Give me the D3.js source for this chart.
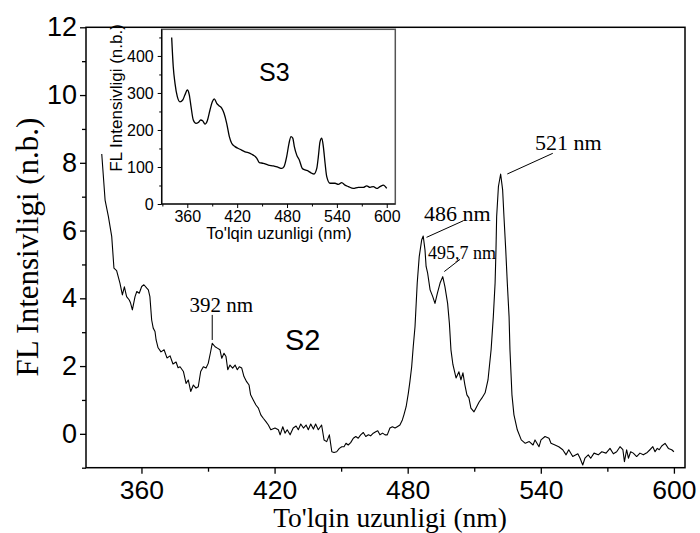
<!DOCTYPE html>
<html><head><meta charset="utf-8">
<script src="https://cdn.jsdelivr.net/npm/d3@7"></script>
<style>
body{margin:0;background:#fff;}
svg{display:block;}
</style></head>
<body>
<svg id="c" width="700" height="533"></svg>
<script>
// ---- Main spectrum (S2) ----
const mainWavelength = [342.1,343.6,345.1,346.6,347.6,348.8,350.3,351.4,352.3,353.3,354.5,355.1,355.9,357.1,357.9,359.0,360.1,361.1,362.4,363.1,363.8,364.6,365.3,366.1,366.6,
367.5,368.8,370.2,371.5,372.9,374.2,375.6,376.5,
377.4,378.9,380.1,381.1,382.2,383.4,384.6,385.6,386.7,387.9,389.1,390.1,391.2,391.9,393.2,394.2,395.4,396.2,397.2,398.1,398.9,399.9,401.1,402.2,403.2,404.1,405.2,406.2,407.4,408.5,409.2,410.4,411.6,412.7,413.8,414.9,416.1,417.2,418.3,420.2,421.7,422.5,423.7,424.7,425.7,427.0,428.4,429.7,430.7,431.8,433.0,434.2,435.2,436.3,437.5,438.5,439.7,441.2,442.3,443.5,444.7,445.8,446.8,448.0,449.2,450.3,451.3,452.2,453.2,454.3,455.5,456.6,457.7,458.8,460.0,461.1,462.3,463.3,464.5,465.6,466.5,467.5,468.7,469.8,470.8,472.0,473.1,474.3,475.3,476.5,477.6,478.3,479.3,480.3,481.0,481.8,482.5,483.3,484.3,485.2,486.3,487.0,487.8,488.3,489.0,490.1,491.3,492.3,493.4,494.6,495.8,496.8,498.0,498.8,499.5,
500.4,501.8,503.1,504.0,504.9,505.8,506.7,507.6,508.5,509.9,510.8,512.2,513.5,514.9,516.2,517.6,518.6,519.4,519.8,520.1,520.9,521.9,522.8,523.4,524.2,524.9,525.7,526.1,527.0,527.9,529.4,531.2,533.0,534.8,536.5,537.4,539.2,540.1,541.9,543.7,544.6,546.4,548.1,549.9,551.4,552.6,554.4,556.7,557.7,558.9,559.9,561.4,562.5,564.0,565.9,567.5,569.4,571.2,572.7,574.2,575.7,577.0,577.7,578.7,579.5,580.5,581.7,583.2,584.7,586.2,588.0,589.2,590.5,591.5,592.5,593.4,594.5,596.0,597.5,599.0,600.0];
const mainIntensity = [8.26,6.90,6.41,5.82,4.89,4.82,4.45,4.10,4.34,4.05,3.95,3.86,3.66,4.05,4.20,4.15,4.35,4.40,4.30,4.25,4.05,3.36,3.12,3.02,2.77,
2.54,2.42,2.48,2.24,2.30,2.06,2.12,1.95,
1.98,1.84,1.49,1.59,1.25,1.44,1.35,1.39,1.84,1.98,1.94,2.08,2.43,2.67,2.57,2.53,2.48,2.23,2.38,2.28,1.89,2.03,1.94,2.03,1.89,1.98,1.94,1.69,1.54,1.44,1.15,1.00,0.85,0.76,0.56,0.46,0.36,0.26,0.12,0.17,0.12,-0.03,0.21,0.02,0.12,-0.03,0.17,0.23,0.12,0.29,0.17,0.26,0.12,0.29,0.14,0.29,0.12,0.26,-0.18,-0.23,-0.03,-0.53,-0.55,-0.53,-0.43,-0.38,-0.38,-0.28,-0.33,-0.26,-0.13,-0.08,-0.13,-0.03,0.04,-0.08,-0.03,-0.06,0.02,0.06,0.09,-0.03,0.02,-0.03,-0.03,0.17,0.21,0.17,0.21,0.26,0.41,0.56,0.80,1.20,1.54,1.98,2.57,3.16,4.45,5.23,5.72,5.84,5.43,4.94,4.74,4.25,4.05,3.85,4.15,4.45,4.64,4.34,3.85,3.26,2.48,
2.04,1.65,1.83,1.59,1.80,1.44,1.15,1.06,0.76,0.65,0.76,0.94,1.06,1.21,1.59,2.48,3.46,4.45,5.43,6.41,7.30,7.67,7.20,6.41,5.43,4.45,3.46,2.48,1.15,0.56,0.12,-0.18,-0.28,-0.23,-0.33,-0.18,-0.38,-0.18,-0.08,-0.13,-0.28,-0.33,-0.38,-0.47,-0.62,-0.47,-0.67,-0.59,-0.72,-0.92,-0.72,-0.62,-0.72,-0.57,-0.62,-0.53,-0.57,-0.43,-0.59,-0.53,-0.38,-0.47,-0.82,-0.47,-0.72,-0.53,-0.57,-0.67,-0.57,-0.62,-0.55,-0.47,-0.38,-0.53,-0.43,-0.47,-0.36,-0.28,-0.43,-0.47,-0.53];

// ---- Inset spectrum (S3) ----
const insetWavelength = [341.2,343.1,345.2,348.0,351.2,354.5,357.2,360.0,362.4,364.5,367.2,370.5,373.2,376.1,378.5,381.3,384.1,387.3,390.1,392.5,395.4,398.5,401.4,404.2,407.4,410.6,413.4,417.4,423.4,429.5,435.5,439.4,443.5,446.6,451.5,457.5,463.5,469.5,473.6,476.4,479.6,482.4,484.8,486.9,488.8,491.7,494.8,498.4,501.7,505.6,509.7,512.5,515.8,517.7,519.7,521.8,523.7,525.8,527.8,531.8,537.8,541.8,545.8,549.8,553.8,559.8,565.8,571.8,575.9,579.9,583.9,587.9,591.9,595.9,600.0];
const insetIntensity = [450,371,326,290,276,281,295,308,295,263,227,218,220,227,225,216,225,254,276,284,272,265,259,245,218,182,164,155,148,141,137,132,124,112,110,105,103,99,96,101,128,164,182,178,155,132,119,96,92,89,83,81,96,128,168,178,155,110,74,56,56,53,58,51,47,42,45,45,49,45,47,42,47,51,42];

// ---- Axis ticks ----
const mainXTicks = [360,420,480,540,600];
const mainXMinor = [390,450,510,570];
const mainYTicks = [0,2,4,6,8,10,12];
const mainYMinor = [-1,1,3,5,7,9,11];
const insetXTicks = [360,420,480,540,600];
const insetXMinor = [330,390,450,510,570];
const insetYTicks = [0,100,200,300,400];
const insetYMinor = [50,150,250,350,450];

// ---- Peak labels ----
const peakLabels = ["392 nm","486 nm","495,7 nm","521 nm"];

const svg = d3.select("#c");
const SANS = "'Liberation Sans', Arial, sans-serif";
const SERIF = "'Liberation Serif', 'Times New Roman', serif";

const x = d3.scaleLinear().domain([335,605]).range([86,685]);
const y = d3.scaleLinear().domain([-1,12]).range([467.7,27.3]);

function styleAxis(g, fs){
  g.select(".domain").remove();
  g.selectAll("line").attr("stroke","#000").attr("stroke-width",1.3);
  g.selectAll("text").attr("font-family",SANS).attr("font-size",fs).attr("fill","#000");
}
svg.append("g").attr("transform","translate(0,467.7)")
  .call(d3.axisBottom(x).tickValues(mainXTicks).tickSize(6).tickPadding(6).tickFormat(d3.format("d")))
  .call(g=>styleAxis(g,26.5));
svg.append("g").attr("transform","translate(0,467.7)")
  .call(d3.axisBottom(x).tickValues(mainXMinor).tickSize(4).tickFormat(""))
  .call(g=>styleAxis(g,26.5));
svg.append("g").attr("transform","translate(86,0)")
  .call(d3.axisLeft(y).tickValues(mainYTicks).tickSize(6).tickPadding(3).tickFormat(d3.format("d")))
  .call(g=>styleAxis(g,27));
svg.append("g").attr("transform","translate(86,0)")
  .call(d3.axisLeft(y).tickValues(mainYMinor).tickSize(4).tickFormat(""))
  .call(g=>styleAxis(g,27));

svg.append("rect").attr("x",x.range()[0]).attr("y",y.range()[1])
  .attr("width",x.range()[1]-x.range()[0]).attr("height",y.range()[0]-y.range()[1])
  .attr("fill","none").attr("stroke","#000").attr("stroke-width",1.5);

const pts = mainWavelength.map((w,i)=>[w,mainIntensity[i]]);
svg.append("path").datum(pts)
  .attr("d",d3.line().x(d=>x(d[0])).y(d=>y(d[1])))
  .attr("fill","none").attr("stroke","#000").attr("stroke-width",1.1).attr("stroke-linejoin","round");

svg.append("text").attr("x",390).attr("y",527).attr("text-anchor","middle")
  .attr("font-family",SERIF).attr("font-size",27.5).text("To'lqin uzunligi (nm)");
svg.append("text").attr("transform","translate(38,247) rotate(-90)").attr("text-anchor","middle")
  .attr("font-family",SERIF).attr("font-size",31).text("FL Intensivligi (n.b.)");

svg.append("text").attr("x",x(424.7)).attr("y",y(2.48)).attr("font-family",SANS).attr("font-size",29).text("S2");

function ann(label, fs, tx, ty, x1,y1,x2,y2){
  svg.append("line").attr("x1",x(x1)).attr("y1",y(y1)).attr("x2",x(x2)).attr("y2",y(y2))
    .attr("stroke","#000").attr("stroke-width",1);
  svg.append("text").attr("x",x(tx)).attr("y",y(ty)).attr("font-family",SERIF).attr("font-size",fs).text(label);
}
ann(peakLabels[0],21,381.6,3.61, 391.9,3.51,391.9,2.77);
ann(peakLabels[1],22,487.4,6.28, 488.5,5.80,505.1,6.29);
ann(peakLabels[2],18,489.2,5.15, 496.5,4.79,503.6,5.15);
ann(peakLabels[3],22,537.4,8.38, 524.9,7.67,545.4,8.28);

// ---- inset ----
const ix = d3.scaleLinear().domain([329.2,610.3]).range([161.7,395.3]);
const iy = d3.scaleLinear().domain([0,472]).range([204,29.3]);
svg.append("rect").attr("x",ix.range()[0]).attr("y",iy.range()[1])
  .attr("width",ix.range()[1]-ix.range()[0]).attr("height",iy.range()[0]-iy.range()[1])
  .attr("fill","#fff").attr("stroke","#555").attr("stroke-width",1.5);
svg.append("line").attr("x1",ix.range()[0]).attr("x2",ix.range()[0]).attr("y1",iy.range()[0]).attr("y2",iy.range()[1]).attr("stroke","#000").attr("stroke-width",1.2);
svg.append("line").attr("x1",ix.range()[0]).attr("x2",ix.range()[1]).attr("y1",iy.range()[0]).attr("y2",iy.range()[0]).attr("stroke","#000").attr("stroke-width",1.2);

function styleIn(g){
  g.select(".domain").remove();
  g.selectAll("line").attr("stroke","#000").attr("stroke-width",1);
  g.selectAll("text").attr("font-family",SANS).attr("font-size",16).attr("fill","#000");
}
svg.append("g").attr("transform","translate(0,204)")
  .call(d3.axisBottom(ix).tickValues(insetXTicks).tickSize(4).tickPadding(3).tickFormat(d3.format("d"))).call(styleIn);
svg.append("g").attr("transform","translate(0,204)")
  .call(d3.axisBottom(ix).tickValues(insetXMinor).tickSize(2.5).tickFormat("")).call(styleIn);
svg.append("g").attr("transform","translate(161.7,0)")
  .call(d3.axisLeft(iy).tickValues(insetYTicks).tickSize(4).tickPadding(4).tickFormat(d3.format("d"))).call(styleIn);
svg.append("g").attr("transform","translate(161.7,0)")
  .call(d3.axisLeft(iy).tickValues(insetYMinor).tickSize(2.5).tickFormat("")).call(styleIn);

const ipts = insetWavelength.map((w,i)=>[w,insetIntensity[i]]);
svg.append("path").datum(ipts)
  .attr("d",d3.line().x(d=>ix(d[0])).y(d=>iy(d[1])).curve(d3.curveMonotoneX))
  .attr("fill","none").attr("stroke","#000").attr("stroke-width",1.3);

svg.append("text").attr("x",279).attr("y",239).attr("text-anchor","middle")
  .attr("font-family",SANS).attr("font-size",16.5).text("To'lqin uzunligi (nm)");
svg.append("text").attr("transform","translate(121.5,98) rotate(-90)").attr("text-anchor","middle")
  .attr("font-family",SANS).attr("font-size",17).text("FL Intensivligi (n.b.)");
svg.append("text").attr("x",ix(446.3)).attr("y",iy(332)).attr("font-family",SANS).attr("font-size",25).text("S3");
</script>
</body></html>
